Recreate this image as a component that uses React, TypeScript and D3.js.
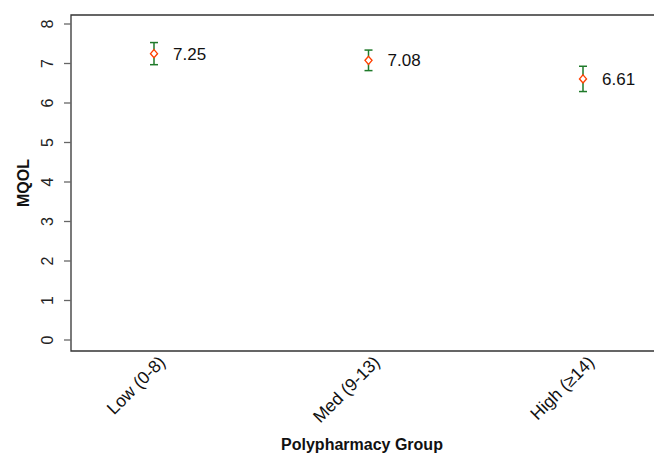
import React from "react";
import * as d3 from "d3";

const categories = ["Low (0-8)", "Med (9-13)", "High (≥14)"];
const means = [7.25, 7.08, 6.61];
const lower = [6.97, 6.82, 6.29];
const upper = [7.53, 7.34, 6.93];
const yTicks = [0, 1, 2, 3, 4, 5, 6, 7, 8];

export default function App() {
  const W = 654, H = 455;
  const left = 71, right = 666, top = 15, bottom = 351;
  const x = d3.scalePoint<string>().domain(categories).range([154, 583]);
  const y = d3.scaleLinear().domain([0, 8]).range([340, 24]);
  const font = "Arial, 'Liberation Sans', sans-serif";
  return (
    <svg width={W} height={H} style={{ position: "absolute", left: 0, top: 0 }} fontFamily={font}>
      <rect x={0} y={0} width={W} height={H} fill="#fff" />
      <path d={`M${right},${top}H${left}V${bottom}H${right}`} fill="none" stroke="#333" strokeWidth={1.3} />
      {yTicks.map((t) => (
        <g key={t}>
          <line x1={left - 7} x2={left} y1={y(t)} y2={y(t)} stroke="#666" strokeWidth={1.3} />
          <text transform={`translate(${left - 18},${y(t)}) rotate(-90)`} textAnchor="middle" fontSize={16} fill="#222">{t}</text>
        </g>
      ))}
      {categories.map((c) => (
        <text key={c} transform={`translate(${(x(c) as number) + 3},${bottom + 3}) rotate(-45)`} textAnchor="end" fontSize={17.5} fill="#111" dy="0.75em">{c}</text>
      ))}
      {categories.map((c, i) => {
        const cx = x(c) as number;
        const cy = y(means[i]);
        return (
          <g key={c}>
            <line x1={cx} x2={cx} y1={y(upper[i])} y2={y(lower[i])} stroke="#1f7a2a" strokeWidth={1.5} />
            <line x1={cx - 4} x2={cx + 4} y1={y(upper[i])} y2={y(upper[i])} stroke="#1f7a2a" strokeWidth={1.5} />
            <line x1={cx - 4} x2={cx + 4} y1={y(lower[i])} y2={y(lower[i])} stroke="#1f7a2a" strokeWidth={1.5} />
            <path d={`M${cx},${cy - 4}L${cx + 3.5},${cy}L${cx},${cy + 4}L${cx - 3.5},${cy}Z`} fill="#fff" stroke="#ff4000" strokeWidth={1.4} />
            <text x={cx + 19} y={cy} dy="0.36em" fontSize={17} fill="#111">{means[i].toFixed(2)}</text>
          </g>
        );
      })}
      <text x={362} y={450} textAnchor="middle" fontSize={16} fontWeight="bold" fill="#111">Polypharmacy Group</text>
      <text transform={`translate(29,183) rotate(-90)`} textAnchor="middle" fontSize={16} fontWeight="bold" fill="#111">MQOL</text>
    </svg>
  );
}
